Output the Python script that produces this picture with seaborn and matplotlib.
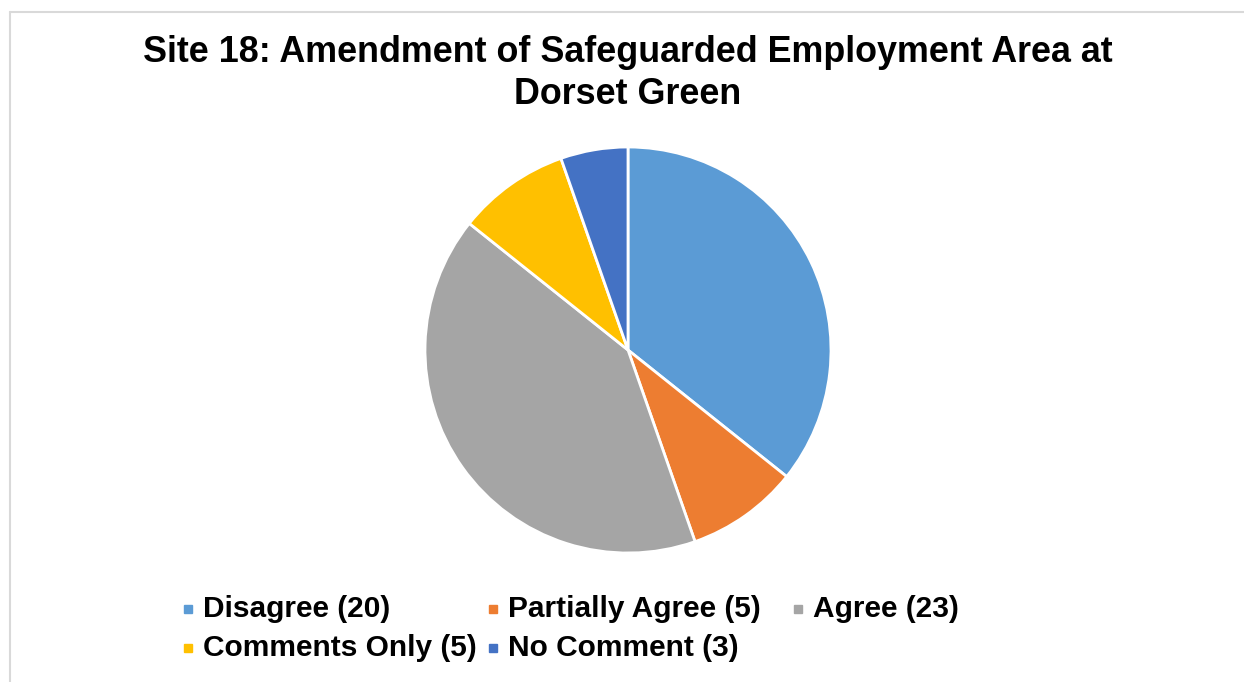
import matplotlib
matplotlib.use("Agg")
import matplotlib.pyplot as plt
import seaborn as sns
from matplotlib.lines import Line2D

categories = ["Disagree", "Partially Agree", "Agree", "Comments Only", "No Comment"]
values = [20, 5, 23, 5, 3]
colors = ["#5B9BD5", "#ED7D31", "#A5A5A5", "#FFC000", "#4472C4"]
title_line1 = "Site 18: Amendment of Safeguarded Employment Area at"
title_line2 = "Dorset Green"

sns.set_theme(style="white")
plt.rcParams['font.family'] = ['Liberation Sans', 'DejaVu Sans']

W, H = 1244, 682
fig = plt.figure(figsize=(W / 100, H / 100), dpi=100)
fig.patch.set_facecolor("white")

# border lines
fig.add_artist(Line2D([10 / W, 1.0], [1 - 12 / H, 1 - 12 / H], color="#D9D9D9", lw=1.5, transform=fig.transFigure))
fig.add_artist(Line2D([10 / W, 10 / W], [0, 1 - 12 / H], color="#D9D9D9", lw=1.5, transform=fig.transFigure))

cx, cy, r = 628, 350, 203
ax = fig.add_axes([(cx - r) / W, 1 - (cy + r) / H, 2 * r / W, 2 * r / H])
wedges, _ = ax.pie(values, colors=colors, startangle=90, counterclock=False,
                   wedgeprops=dict(edgecolor="white", linewidth=2))
ax.set_xlim(-1, 1)
ax.set_ylim(-1, 1)
ax.set_aspect("equal")
ax.axis("off")

fig.text(628 / W, 1 - 53 / H, title_line1, ha="center", va="center",
         fontsize=25.8, fontweight="bold", color="black")
fig.text(628 / W, 1 - 94 / H, title_line2, ha="center", va="center",
         fontsize=25.8, fontweight="bold", color="black")

# legend: Excel-style equal-width columns, row-major order
labels = [f"{c} ({v})" for c, v in zip(categories, values)]
col_x0, col_w = 188, 305
row_y = [609, 648]
for i, (lab, col) in enumerate(zip(labels, colors)):
    row, c = divmod(i, 3)
    mx = col_x0 + col_w * c
    my = row_y[row]
    fig.add_artist(Line2D([mx / W], [1 - my / H], marker="s", markersize=5.2,
                          markerfacecolor=col, markeredgecolor=col,
                          linestyle="none", transform=fig.transFigure))
    fig.text((mx + 15) / W, 1 - my / H, lab, ha="left", va="center",
             fontsize=21.5, fontweight="bold", color="black")

fig.savefig("out.png", dpi=100)
